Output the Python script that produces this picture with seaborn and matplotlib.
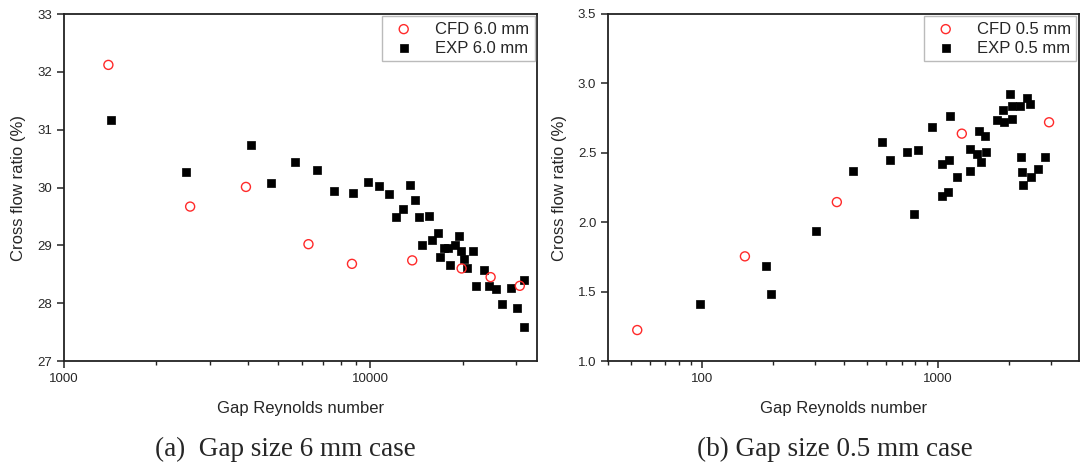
import numpy as np
import pandas as pd
import matplotlib
matplotlib.use("Agg")
import matplotlib.pyplot as plt
from matplotlib.ticker import LogLocator, FixedLocator, NullFormatter, FixedFormatter
import seaborn as sns

# ---- data: gap 6.0 mm ----
cfd6_re = [1396, 2581, 3926, 6281, 8710, 13700, 19860, 24700, 30760]
cfd6_cf = [32.12, 29.67, 30.01, 29.02, 28.68, 28.74, 28.60, 28.45, 28.30]
exp6_re = [1420, 2510, 4064, 4737, 5689, 6675, 7589, 8780, 9797, 10670, 11500, 13480,
           13990, 12160, 12750, 14450, 15560, 14760, 16630, 15950, 17460, 17950, 16850,
           18160, 18860, 19540, 19790, 20170, 20700, 21650, 22190, 23530, 24490, 25680,
           26920, 28690, 30060, 31700, 31700]
exp6_cf = [31.17, 30.27, 30.73, 30.07, 30.44, 30.30, 29.94, 29.90, 30.10, 30.03, 29.88, 30.05,
           29.78, 29.49, 29.62, 29.49, 29.51, 29.00, 29.22, 29.09, 28.95, 28.96, 28.80,
           28.66, 29.00, 29.17, 28.90, 28.76, 28.60, 28.90, 28.29, 28.57, 28.29, 28.24,
           27.98, 28.26, 27.92, 28.40, 27.59]

# ---- data: gap 0.5 mm ----
cfd05_re = [53.2, 152, 372.5, 1260, 2950]
cfd05_cf = [1.223, 1.754, 2.145, 2.638, 2.72]
exp05_re = [98, 186.6, 196, 305, 789, 1040, 1102, 2297, 435, 576, 625, 735, 818, 944,
            1037, 1110, 1125, 1200, 1358, 1358, 1468, 1483, 1520, 1587, 1592, 1782,
            1884, 1909, 2012, 2050, 2055, 2215, 2243, 2258, 2371, 2442, 2473, 2648, 2837]
exp05_cf = [1.411, 1.682, 1.483, 1.937, 2.061, 2.189, 2.22, 2.268, 2.367, 2.58, 2.446, 2.504,
            2.52, 2.684, 2.417, 2.448, 2.767, 2.328, 2.369, 2.527, 2.489, 2.655, 2.436,
            2.619, 2.504, 2.734, 2.806, 2.722, 2.921, 2.835, 2.746, 2.835, 2.472, 2.362,
            2.893, 2.849, 2.326, 2.385, 2.468]

labels6 = ["CFD 6.0 mm", "EXP 6.0 mm"]
labels05 = ["CFD 0.5 mm", "EXP 0.5 mm"]
xlabel = "Gap Reynolds number"
ylabel = "Cross flow ratio (%)"
captions = ["(a)  Gap size 6 mm case", "(b) Gap size 0.5 mm case"]

sns.set_style("ticks")
plt.rcParams['font.family'] = ['Liberation Sans', 'DejaVu Sans']

fig = plt.figure(figsize=(10.85, 4.69), dpi=100)
W, H = 1085, 469
ax1 = fig.add_axes([64 / W, 1 - 361 / H, (537 - 64) / W, (361 - 14) / H])
ax2 = fig.add_axes([608 / W, 1 - 361 / H, (1079 - 608) / W, (361 - 14) / H])


def make_df(cre, ccf, ere, ecf, labs):
    return pd.DataFrame({
        "re": list(cre) + list(ere),
        "cf": list(ccf) + list(ecf),
        "series": [labs[0]] * len(cre) + [labs[1]] * len(ere),
    })


def draw(ax, df, labs):
    sub_c = df[df.series == labs[0]]
    sub_e = df[df.series == labs[1]]
    sns.scatterplot(data=sub_c, x="re", y="cf", ax=ax, marker="o", s=42,
                    facecolors="none", edgecolor="#ff2a2a", linewidth=1.0,
                    label=labs[0], zorder=3)
    sns.scatterplot(data=sub_e, x="re", y="cf", ax=ax, marker="s", s=40,
                    color="black", edgecolor="black", linewidth=0.5,
                    label=labs[1], zorder=2)
    ax.set_xscale("log")
    for sp in ax.spines.values():
        sp.set_linewidth(1.3)
        sp.set_color("#222222")
    ax.tick_params(axis="both", which="major", direction="out", length=5, width=1.1,
                   labelsize=9.5, top=False, right=False, color="#222222")
    ax.tick_params(axis="both", which="minor", direction="out", length=3, width=1.0,
                   top=False, right=False, color="#222222")
    ax.set_xlabel(xlabel, fontsize=12, labelpad=12)
    ax.set_ylabel(ylabel, fontsize=12, labelpad=8)
    leg = ax.legend(loc="upper right", fontsize=12, frameon=True, fancybox=False,
                    borderpad=0.3, handletextpad=0.9, labelspacing=0.25,
                    borderaxespad=0.15, handlelength=2.0)
    leg.get_frame().set_edgecolor("#aaaaaa")
    leg.get_frame().set_linewidth(1.0)


df6 = make_df(cfd6_re, cfd6_cf, exp6_re, exp6_cf, labels6)
draw(ax1, df6, labels6)
ax1.set_xlim(1000, 35000)
ax1.set_ylim(27, 33)
ax1.xaxis.set_major_locator(FixedLocator([1000, 10000]))
ax1.xaxis.set_major_formatter(FixedFormatter(["1000", "10000"]))
ax1.xaxis.set_minor_locator(LogLocator(base=10, subs=np.arange(2, 10), numticks=20))
ax1.xaxis.set_minor_formatter(NullFormatter())
ax1.set_yticks([27, 28, 29, 30, 31, 32, 33])

df05 = make_df(cfd05_re, cfd05_cf, exp05_re, exp05_cf, labels05)
draw(ax2, df05, labels05)
ax2.set_xlim(40, 3950)
ax2.set_ylim(1.0, 3.5)
ax2.xaxis.set_major_locator(FixedLocator([100, 1000]))
ax2.xaxis.set_major_formatter(FixedFormatter(["100", "1000"]))
ax2.xaxis.set_minor_locator(LogLocator(base=10, subs=np.arange(2, 10), numticks=20))
ax2.xaxis.set_minor_formatter(NullFormatter())
ax2.set_yticks([1.0, 1.5, 2.0, 2.5, 3.0, 3.5])
ax2.set_yticklabels(["1.0", "1.5", "2.0", "2.5", "3.0", "3.5"])

fig.text(285 / W, 1 - 449 / H, captions[0], ha="center", va="center",
         fontsize=19.5, family=["Liberation Serif", "DejaVu Serif"])
fig.text(835 / W, 1 - 449 / H, captions[1], ha="center", va="center",
         fontsize=19.5, family=["Liberation Serif", "DejaVu Serif"])

fig.savefig("out.png", dpi=100)
